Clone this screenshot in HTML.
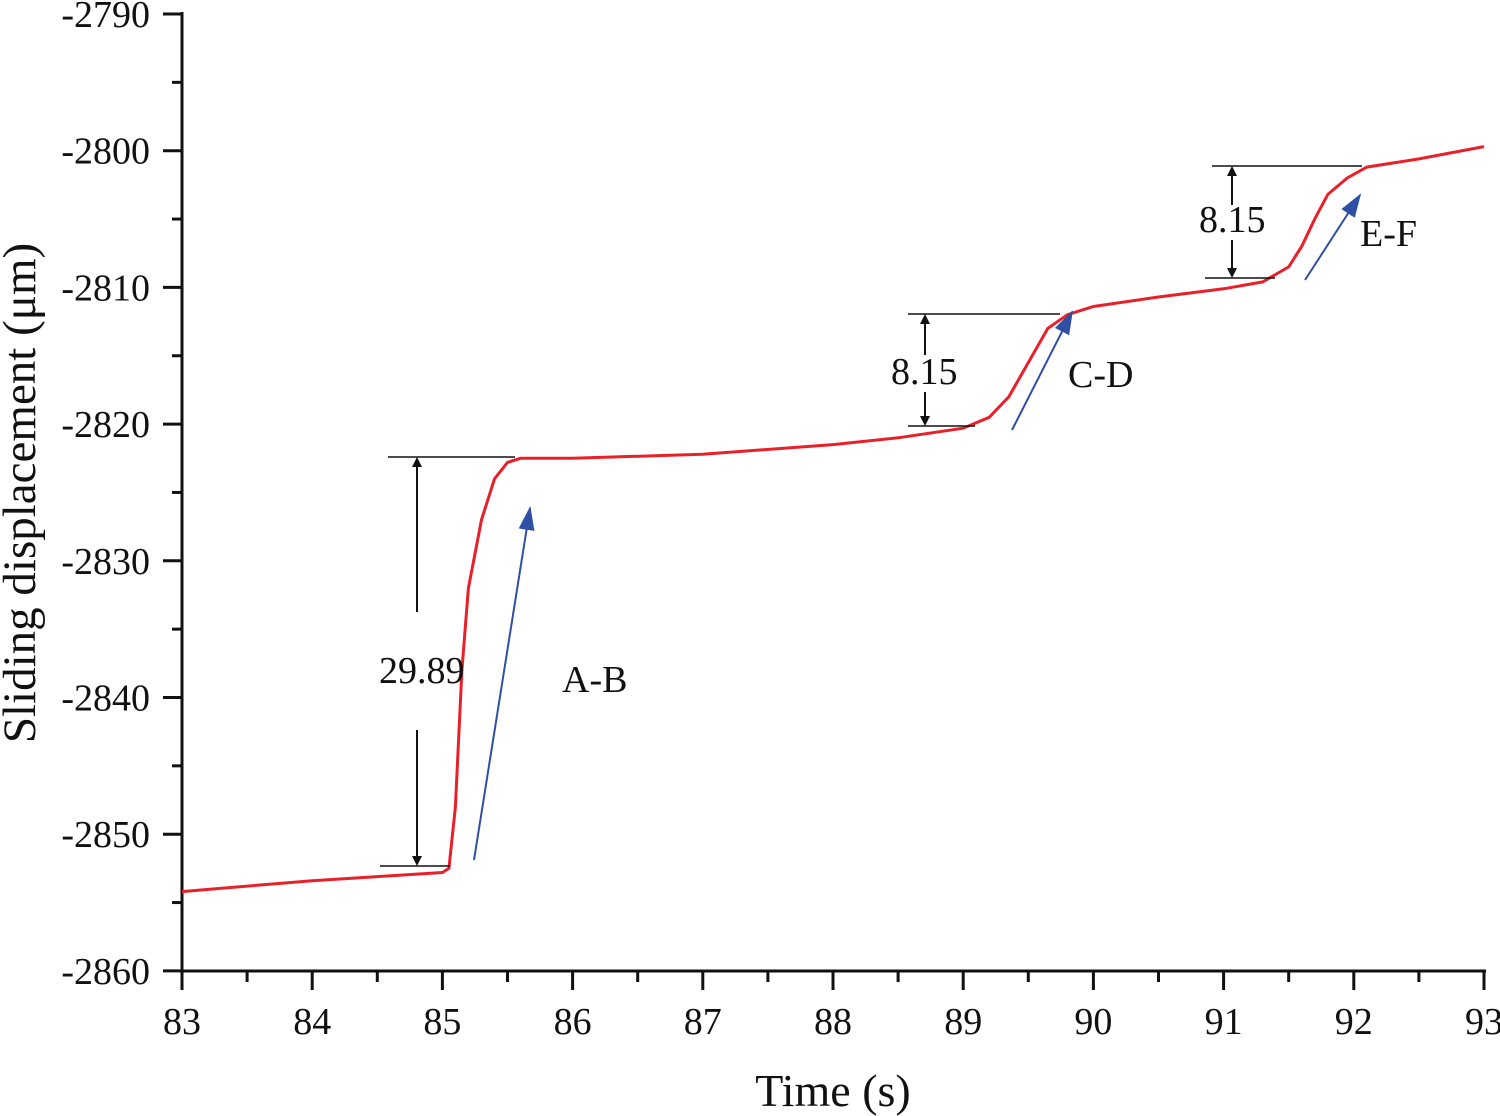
<!DOCTYPE html>
<html><head><meta charset="utf-8"><style>
body{margin:0;background:#fff;}
svg{display:block;font-family:"Liberation Serif",serif;}
</style></head><body>
<svg id="chart" width="1500" height="1116" viewBox="0 0 1500 1116">
<defs>
<marker id="ab" markerWidth="10" markerHeight="10" refX="8" refY="5" orient="auto" markerUnits="userSpaceOnUse"><path d="M0,0 L10,5 L0,10 Z" fill="#111"/></marker>
<marker id="bl" markerWidth="24" markerHeight="16" refX="22" refY="8" orient="auto" markerUnits="userSpaceOnUse"><path d="M0,0 L24,8 L0,16 Z" fill="#2f4fa5"/></marker>
</defs>
<g id="axes"></g>
<g id="series"></g>
<g id="annot"></g>
</svg>
<script>
const xTicks=[83,84,85,86,87,88,89,90,91,92,93];
const yTicks=[-2790,-2800,-2810,-2820,-2830,-2840,-2850,-2860];
const times=[83,83.5,84,84.5,85,85.05,85.1,85.15,85.2,85.3,85.4,85.5,85.6,86,87,88,88.5,89,89.2,89.35,89.5,89.65,89.8,90,90.5,91,91.3,91.5,91.6,91.7,91.8,91.95,92.1,92.5,93];
const disp=[-2854.2,-2853.8,-2853.4,-2853.1,-2852.8,-2852.5,-2848,-2838,-2832,-2827,-2824,-2822.8,-2822.5,-2822.5,-2822.2,-2821.5,-2821,-2820.3,-2819.5,-2818,-2815.5,-2813,-2812,-2811.4,-2810.7,-2810.1,-2809.6,-2808.5,-2807,-2805,-2803.2,-2802,-2801.2,-2800.6,-2799.7];
const X=v=>182+(v-83)*130.2;
const Y=v=>14+(-2790-v)*13.67;
const NS="http://www.w3.org/2000/svg";
function mk(tag,attrs,parent,txt){const e=document.createElementNS(NS,tag);for(const k in attrs)e.setAttribute(k,attrs[k]);if(txt!==undefined)e.textContent=txt;parent.appendChild(e);return e;}
const ax=document.getElementById('axes');
let l=mk('line',{x1:182,y1:12,x2:182,y2:973,stroke:'#111','stroke-width':3},ax);


l=mk('line',{x1:180,y1:971,x2:1486,y2:971,stroke:'#111','stroke-width':3},ax);


xTicks.forEach((t,i)=>{
  const x=X(t);
  let tk=mk('line',{x1:x,y1:971,x2:x,y2:990,stroke:'#111','stroke-width':3},ax);
  
  
  if(i<xTicks.length-1){let m=mk('line',{x1:X(t+0.5),y1:971,x2:X(t+0.5),y2:982,stroke:'#111','stroke-width':3},ax);
    
    }
  let tx=mk('text',{x:x,y:1034,'text-anchor':'middle','font-size':38,fill:'#111'},ax,String(t));
  
  
});
yTicks.forEach((t,i)=>{
  const y=Y(t);
  let tk=mk('line',{x1:163,y1:y,x2:182,y2:y,stroke:'#111','stroke-width':3},ax);
  
  
  if(i<yTicks.length-1){let m=mk('line',{x1:172,y1:Y(t-5),x2:182,y2:Y(t-5),stroke:'#111','stroke-width':3},ax);
    
    }
  let tx=mk('text',{x:150,y:y+13,'text-anchor':'end','font-size':38,fill:'#111'},ax,String(t));
  
  
});
let xt=mk('text',{x:833,y:1106,'text-anchor':'middle','font-size':46,fill:'#111'},ax,'Time (s)');


let yt=mk('text',{x:0,y:0,'text-anchor':'middle','font-size':47,fill:'#111',transform:'translate(35,493) rotate(-90)'},ax,'Sliding displacement (μm)');


const se=document.getElementById('series');
let d='';
times.forEach((t,i)=>{d+=(i?'L':'M')+X(t).toFixed(1)+','+Y(disp[i]).toFixed(1);});
let p=mk('path',{d:d,fill:'none',stroke:'#e8202a','stroke-width':3},se);


const an=document.getElementById('annot');
function ln(x1,y1,x2,y2,name,extra){let e=mk('line',Object.assign({x1,y1,x2,y2,stroke:'#111','stroke-width':1.5},extra||{}),an);return e;}
function txt(x,y,s,name){let e=mk('text',{x,y,'font-size':38,fill:'#111'},an,s);}
ln(388,457,515,457,'ab-top-line');ln(380,866,450,866,'ab-bottom-line');
ln(417,612,417,459,'ab-arrow-up',{'marker-end':'url(#ab)','stroke-width':2});
ln(417,730,417,864,'ab-arrow-down',{'marker-end':'url(#ab)','stroke-width':2});
txt(379,683,'29.89','ab-value');
ln(908,314,1060,314,'cd-top-line');ln(908,426,975,426,'cd-bottom-line');
ln(925,355,925,316,'cd-arrow-up',{'marker-end':'url(#ab)','stroke-width':2});
ln(925,392,925,424,'cd-arrow-down',{'marker-end':'url(#ab)','stroke-width':2});
txt(891,384,'8.15','cd-value');
ln(1212,166,1362,166,'ef-top-line');ln(1205,278,1275,278,'ef-bottom-line');
ln(1232,205,1232,168,'ef-arrow-up',{'marker-end':'url(#ab)','stroke-width':2});
ln(1232,240,1232,276,'ef-arrow-down',{'marker-end':'url(#ab)','stroke-width':2});
txt(1199,232,'8.15','ef-value');
function bl(x1,y1,x2,y2,name){let e=mk('line',{x1,y1,x2,y2,stroke:'#2f4fa5','stroke-width':2,'marker-end':'url(#bl)'},an);}
bl(474,860,530,508,'ab-blue-arrow');bl(1012,430,1072,312,'cd-blue-arrow');bl(1305,280,1360,195,'ef-blue-arrow');
txt(562,692,'A-B','ab-label');txt(1068,387,'C-D','cd-label');txt(1360,246,'E-F','ef-label');
</script>
</body></html>
